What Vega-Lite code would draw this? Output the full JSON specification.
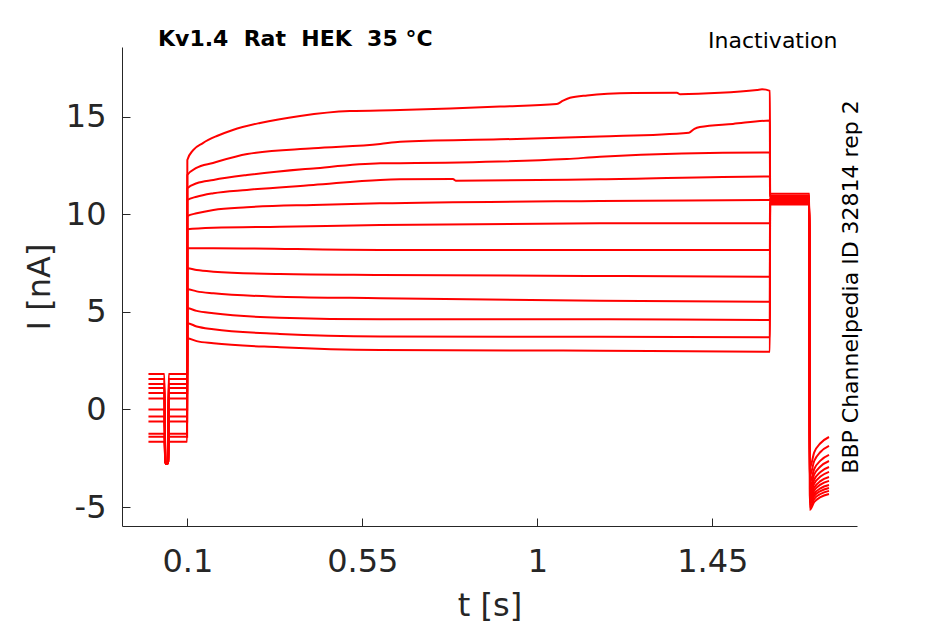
{
  "$schema": "https://vega.github.io/schema/vega-lite/v6.json",
  "width": 735,
  "height": 479,
  "autosize": "none",
  "padding": {"left": 122, "top": 47, "right": 88, "bottom": 98},
  "background": "white",
  "config": {"view": {"stroke": null}, "font": "DejaVu Sans"},
  "title": {
    "text": "Kv1.4\u00a0 Rat\u00a0 HEK\u00a0 35 °C",
    "anchor": "start",
    "frame": "group",
    "dx": 36,
    "fontSize": 22,
    "fontWeight": "bold",
    "font": "DejaVu Sans",
    "color": "#000000",
    "baseline": "alphabetic",
    "offset": -39
  },
  "data": {
    "values": [
      {"s":1,"t":0,"I":1.82},{"s":1,"t":0.041,"I":1.82},{"s":1,"t":0.0435,"I":-2.7},{"s":1,"t":0.047,"I":-2.8},{"s":1,"t":0.0505,"I":-2.7},{"s":1,"t":0.052,"I":1.82},{"s":1,"t":0.0995,"I":1.82},
      {"s":1,"t":0.1,"I":12.78},{"s":1,"t":0.115,"I":13.29},{"s":1,"t":0.14,"I":13.65},{"s":1,"t":0.176,"I":14.01},{"s":1,"t":0.217,"I":14.32},{"s":1,"t":0.287,"I":14.68},{"s":1,"t":0.39,"I":15.04},{"s":1,"t":0.518,"I":15.29},{"s":1,"t":0.647,"I":15.34},{"s":1,"t":0.776,"I":15.42},{"s":1,"t":0.904,"I":15.52},{"s":1,"t":1.05,"I":15.65},{"s":1,"t":1.066,"I":15.82},{"s":1,"t":1.084,"I":15.97},{"s":1,"t":1.128,"I":16.09},{"s":1,"t":1.246,"I":16.21},{"s":1,"t":1.359,"I":16.23},{"s":1,"t":1.367,"I":16.15},{"s":1,"t":1.47,"I":16.22},{"s":1,"t":1.565,"I":16.37},{"s":1,"t":1.578,"I":16.4},{"s":1,"t":1.598,"I":16.32},
      {"s":1,"t":1.5985,"I":11.05},{"s":1,"t":1.7,"I":11.05},
      {"s":1,"t":1.7005,"I":-2.99},{"s":1,"t":1.712,"I":-2.2},{"s":1,"t":1.728,"I":-1.73},{"s":1,"t":1.75,"I":-1.41},

      {"s":2,"t":0,"I":-1.4},{"s":2,"t":0.041,"I":-1.4},{"s":2,"t":0.0435,"I":-2.7},{"s":2,"t":0.047,"I":-2.8},{"s":2,"t":0.0505,"I":-2.7},{"s":2,"t":0.052,"I":-1.4},{"s":2,"t":0.0995,"I":-1.4},
      {"s":2,"t":0.1,"I":12.01},{"s":2,"t":0.122,"I":12.36},{"s":2,"t":0.166,"I":12.63},{"s":2,"t":0.254,"I":13.09},{"s":2,"t":0.424,"I":13.38},{"s":2,"t":0.596,"I":13.6},{"s":2,"t":0.647,"I":13.72},{"s":2,"t":0.904,"I":13.84},{"s":2,"t":1.161,"I":13.98},{"s":2,"t":1.39,"I":14.18},{"s":2,"t":1.404,"I":14.38},{"s":2,"t":1.418,"I":14.47},{"s":2,"t":1.503,"I":14.63},{"s":2,"t":1.598,"I":14.8},
      {"s":2,"t":1.5985,"I":10.95},{"s":2,"t":1.7,"I":10.95},
      {"s":2,"t":1.7005,"I":-3.4},{"s":2,"t":1.712,"I":-2.64},{"s":2,"t":1.728,"I":-2.18},{"s":2,"t":1.75,"I":-1.87},

      {"s":3,"t":0,"I":1.3},{"s":3,"t":0.041,"I":1.3},{"s":3,"t":0.0435,"I":-2.7},{"s":3,"t":0.047,"I":-2.8},{"s":3,"t":0.0505,"I":-2.7},{"s":3,"t":0.052,"I":1.3},{"s":3,"t":0.0995,"I":1.3},
      {"s":3,"t":0.1,"I":11.33},{"s":3,"t":0.124,"I":11.59},{"s":3,"t":0.167,"I":11.76},{"s":3,"t":0.253,"I":12.01},{"s":3,"t":0.424,"I":12.35},{"s":3,"t":0.596,"I":12.61},{"s":3,"t":0.647,"I":12.62},{"s":3,"t":1.076,"I":12.83},{"s":3,"t":1.161,"I":12.95},{"s":3,"t":1.598,"I":13.16},
      {"s":3,"t":1.5985,"I":10.88},{"s":3,"t":1.7,"I":10.88},
      {"s":3,"t":1.7005,"I":-3.76},{"s":3,"t":1.712,"I":-3.05},{"s":3,"t":1.728,"I":-2.62},{"s":3,"t":1.75,"I":-2.33},

      {"s":4,"t":0,"I":-0.62},{"s":4,"t":0.041,"I":-0.62},{"s":4,"t":0.0435,"I":-2.7},{"s":4,"t":0.047,"I":-2.8},{"s":4,"t":0.0505,"I":-2.7},{"s":4,"t":0.052,"I":-0.62},{"s":4,"t":0.0995,"I":-0.62},
      {"s":4,"t":0.1,"I":10.73},{"s":4,"t":0.124,"I":10.9},{"s":4,"t":0.167,"I":11.08},{"s":4,"t":0.253,"I":11.25},{"s":4,"t":0.424,"I":11.5},{"s":4,"t":0.596,"I":11.76},{"s":4,"t":0.647,"I":11.79},{"s":4,"t":0.783,"I":11.81},{"s":4,"t":0.79,"I":11.72},{"s":4,"t":1.161,"I":11.79},{"s":4,"t":1.598,"I":11.93},
      {"s":4,"t":1.5985,"I":10.82},{"s":4,"t":1.7,"I":10.82},
      {"s":4,"t":1.7005,"I":-4.02},{"s":4,"t":1.712,"I":-3.33},{"s":4,"t":1.728,"I":-2.92},{"s":4,"t":1.75,"I":-2.64},

      {"s":5,"t":0,"I":0.84},{"s":5,"t":0.041,"I":0.84},{"s":5,"t":0.0435,"I":-2.7},{"s":5,"t":0.047,"I":-2.8},{"s":5,"t":0.0505,"I":-2.7},{"s":5,"t":0.052,"I":0.84},{"s":5,"t":0.0995,"I":0.84},
      {"s":5,"t":0.1,"I":9.91},{"s":5,"t":0.124,"I":10.05},{"s":5,"t":0.167,"I":10.22},{"s":5,"t":0.253,"I":10.36},{"s":5,"t":0.424,"I":10.48},{"s":5,"t":0.596,"I":10.56},{"s":5,"t":1.161,"I":10.68},{"s":5,"t":1.598,"I":10.73},
      {"s":5,"t":1.5985,"I":10.78},{"s":5,"t":1.7,"I":10.78},
      {"s":5,"t":1.7005,"I":-4.22},{"s":5,"t":1.712,"I":-3.59},{"s":5,"t":1.728,"I":-3.2},{"s":5,"t":1.75,"I":-2.95},

      {"s":6,"t":0,"I":0},{"s":6,"t":0.041,"I":0},{"s":6,"t":0.0435,"I":-2.7},{"s":6,"t":0.047,"I":-2.8},{"s":6,"t":0.0505,"I":-2.7},{"s":6,"t":0.052,"I":0},{"s":6,"t":0.0995,"I":0},
      {"s":6,"t":0.1,"I":9.23},{"s":6,"t":0.167,"I":9.31},{"s":6,"t":0.338,"I":9.36},{"s":6,"t":0.596,"I":9.45},{"s":6,"t":1.161,"I":9.54},{"s":6,"t":1.598,"I":9.54},
      {"s":6,"t":1.5985,"I":10.74},{"s":6,"t":1.7,"I":10.74},
      {"s":6,"t":1.7005,"I":-4.38},{"s":6,"t":1.712,"I":-3.79},{"s":6,"t":1.728,"I":-3.44},{"s":6,"t":1.75,"I":-3.2},

      {"s":7,"t":0,"I":1.56},{"s":7,"t":0.041,"I":1.56},{"s":7,"t":0.0435,"I":-2.7},{"s":7,"t":0.047,"I":-2.8},{"s":7,"t":0.0505,"I":-2.7},{"s":7,"t":0.052,"I":1.56},{"s":7,"t":0.0995,"I":1.56},
      {"s":7,"t":0.1,"I":8.26},{"s":7,"t":0.167,"I":8.26},{"s":7,"t":0.596,"I":8.17},{"s":7,"t":1.598,"I":8.17},
      {"s":7,"t":1.5985,"I":10.7},{"s":7,"t":1.7,"I":10.7},
      {"s":7,"t":1.7005,"I":-4.53},{"s":7,"t":1.712,"I":-4.0},{"s":7,"t":1.728,"I":-3.67},{"s":7,"t":1.75,"I":-3.46},

      {"s":8,"t":0,"I":-1.25},{"s":8,"t":0.041,"I":-1.25},{"s":8,"t":0.0435,"I":-2.7},{"s":8,"t":0.047,"I":-2.8},{"s":8,"t":0.0505,"I":-2.7},{"s":8,"t":0.052,"I":-1.25},{"s":8,"t":0.0995,"I":-1.25},
      {"s":8,"t":0.1,"I":7.23},{"s":8,"t":0.124,"I":7.14},{"s":8,"t":0.167,"I":7.06},{"s":8,"t":0.338,"I":6.94},{"s":8,"t":0.596,"I":6.89},{"s":8,"t":1.161,"I":6.84},{"s":8,"t":1.598,"I":6.8},
      {"s":8,"t":1.5985,"I":10.66},{"s":8,"t":1.7,"I":10.66},
      {"s":8,"t":1.7005,"I":-4.63},{"s":8,"t":1.712,"I":-4.15},{"s":8,"t":1.728,"I":-3.85},{"s":8,"t":1.75,"I":-3.66},

      {"s":9,"t":0,"I":0.56},{"s":9,"t":0.041,"I":0.56},{"s":9,"t":0.0435,"I":-2.7},{"s":9,"t":0.047,"I":-2.8},{"s":9,"t":0.0505,"I":-2.7},{"s":9,"t":0.052,"I":0.56},{"s":9,"t":0.0995,"I":0.56},
      {"s":9,"t":0.1,"I":6.16},{"s":9,"t":0.124,"I":6.05},{"s":9,"t":0.167,"I":5.95},{"s":9,"t":0.338,"I":5.78},{"s":9,"t":0.596,"I":5.7},{"s":9,"t":1.161,"I":5.57},{"s":9,"t":1.598,"I":5.52},
      {"s":9,"t":1.5985,"I":10.62},{"s":9,"t":1.7,"I":10.62},
      {"s":9,"t":1.7005,"I":-4.74},{"s":9,"t":1.712,"I":-4.31},{"s":9,"t":1.728,"I":-4.04},{"s":9,"t":1.75,"I":-3.87},

      {"s":10,"t":0,"I":-0.36},{"s":10,"t":0.041,"I":-0.36},{"s":10,"t":0.0435,"I":-2.7},{"s":10,"t":0.047,"I":-2.8},{"s":10,"t":0.0505,"I":-2.7},{"s":10,"t":0.052,"I":-0.36},{"s":10,"t":0.0995,"I":-0.36},
      {"s":10,"t":0.1,"I":5.18},{"s":10,"t":0.124,"I":5.05},{"s":10,"t":0.167,"I":4.93},{"s":10,"t":0.338,"I":4.7},{"s":10,"t":0.596,"I":4.62},{"s":10,"t":1.161,"I":4.62},{"s":10,"t":1.598,"I":4.58},
      {"s":10,"t":1.5985,"I":10.58},{"s":10,"t":1.7,"I":10.58},
      {"s":10,"t":1.7005,"I":-4.84},{"s":10,"t":1.712,"I":-4.43},{"s":10,"t":1.728,"I":-4.18},{"s":10,"t":1.75,"I":-4.02},

      {"s":11,"t":0,"I":1.1},{"s":11,"t":0.041,"I":1.1},{"s":11,"t":0.0435,"I":-2.7},{"s":11,"t":0.047,"I":-2.8},{"s":11,"t":0.0505,"I":-2.7},{"s":11,"t":0.052,"I":1.1},{"s":11,"t":0.0995,"I":1.1},
      {"s":11,"t":0.1,"I":4.42},{"s":11,"t":0.124,"I":4.25},{"s":11,"t":0.167,"I":4.11},{"s":11,"t":0.338,"I":3.87},{"s":11,"t":0.596,"I":3.74},{"s":11,"t":1.161,"I":3.72},{"s":11,"t":1.598,"I":3.7},
      {"s":11,"t":1.5985,"I":10.54},{"s":11,"t":1.7,"I":10.54},
      {"s":11,"t":1.7005,"I":-4.99},{"s":11,"t":1.712,"I":-4.58},{"s":11,"t":1.728,"I":-4.33},{"s":11,"t":1.75,"I":-4.17},

      {"s":12,"t":0,"I":-1.66},{"s":12,"t":0.041,"I":-1.66},{"s":12,"t":0.0435,"I":-2.7},{"s":12,"t":0.047,"I":-2.8},{"s":12,"t":0.0505,"I":-2.7},{"s":12,"t":0.052,"I":-1.66},{"s":12,"t":0.0995,"I":-1.66},
      {"s":12,"t":0.1,"I":3.65},{"s":12,"t":0.124,"I":3.5},{"s":12,"t":0.167,"I":3.39},{"s":12,"t":0.338,"I":3.19},{"s":12,"t":0.596,"I":3.05},{"s":12,"t":1.161,"I":3.01},{"s":12,"t":1.598,"I":2.96},
      {"s":12,"t":1.5985,"I":10.5},{"s":12,"t":1.7,"I":10.5},
      {"s":12,"t":1.7005,"I":-5.15},{"s":12,"t":1.712,"I":-4.74},{"s":12,"t":1.728,"I":-4.49},{"s":12,"t":1.75,"I":-4.33}
    ]
  },
  "layer": [
    {
      "mark": {"type": "line", "color": "#ff0000", "strokeWidth": 2, "interpolate": "monotone"},
      "encoding": {
        "x": {
          "field": "t",
          "type": "quantitative",
          "scale": {"domain": [-0.068, 1.822], "nice": false, "zero": false},
          "axis": {
            "orient": "bottom",
            "values": [0.1, 0.55, 1, 1.45],
            "labelExpr": "'' + datum.value",
            "title": "t [s]",
            "grid": false,
            "domainColor": "#262626",
            "tickColor": "#262626",
            "tickSize": -8,
            "labelPadding": 28,
            "labelFontSize": 32,
            "labelColor": "#262626",
            "labelFont": "DejaVu Sans",
            "titleFont": "DejaVu Sans",
            "titleFontSize": 32,
            "titleFontWeight": "normal",
            "titleColor": "#262626",
            "titleBaseline": "alphabetic",
            "titlePadding": 38
          }
        },
        "y": {
          "field": "I",
          "type": "quantitative",
          "scale": {"domain": [-5.97, 18.57], "nice": false, "zero": false},
          "axis": {
            "orient": "left",
            "values": [-5, 0, 5, 10, 15],
            "labelExpr": "'' + datum.value",
            "title": "I [nA]",
            "grid": false,
            "domainColor": "#262626",
            "tickColor": "#262626",
            "tickSize": -8,
            "labelPadding": 24,
            "labelFontSize": 32,
            "labelColor": "#262626",
            "labelFont": "DejaVu Sans",
            "titleFont": "DejaVu Sans",
            "titleFontSize": 32,
            "titleFontWeight": "normal",
            "titleColor": "#262626",
            "titleBaseline": "alphabetic",
            "titlePadding": 16
          }
        },
        "detail": {"field": "s", "type": "nominal"}
      }
    },
    {
      "transform": [{"filter": "datum.s == 1 && datum.t == 0"}],
      "mark": {"type": "point", "opacity": 0},
      "encoding": {
        "x": {
          "field": "t",
          "type": "quantitative",
          "axis": {
            "orient": "top",
            "title": "Inactivation",
            "domain": false,
            "ticks": false,
            "labels": false,
            "grid": false,
            "titleFont": "DejaVu Sans",
            "titleFontSize": 22,
            "titleFontWeight": "normal",
            "titleColor": "#000000",
            "titleX": 715,
            "titleAlign": "right",
            "titleBaseline": "alphabetic",
            "titlePadding": 0
          }
        },
        "y": {
          "field": "I",
          "type": "quantitative",
          "axis": {
            "orient": "right",
            "title": "BBP Channelpedia ID 32814 rep 2",
            "domain": false,
            "ticks": false,
            "labels": false,
            "grid": false,
            "titleFont": "DejaVu Sans",
            "titleFontSize": 22,
            "titleFontWeight": "normal",
            "titleColor": "#000000",
            "titleAngle": 270,
            "titleBaseline": "alphabetic",
            "titlePadding": 0
          }
        }
      }
    }
  ],
  "resolve": {"axis": {"x": "independent", "y": "independent"}}
}
